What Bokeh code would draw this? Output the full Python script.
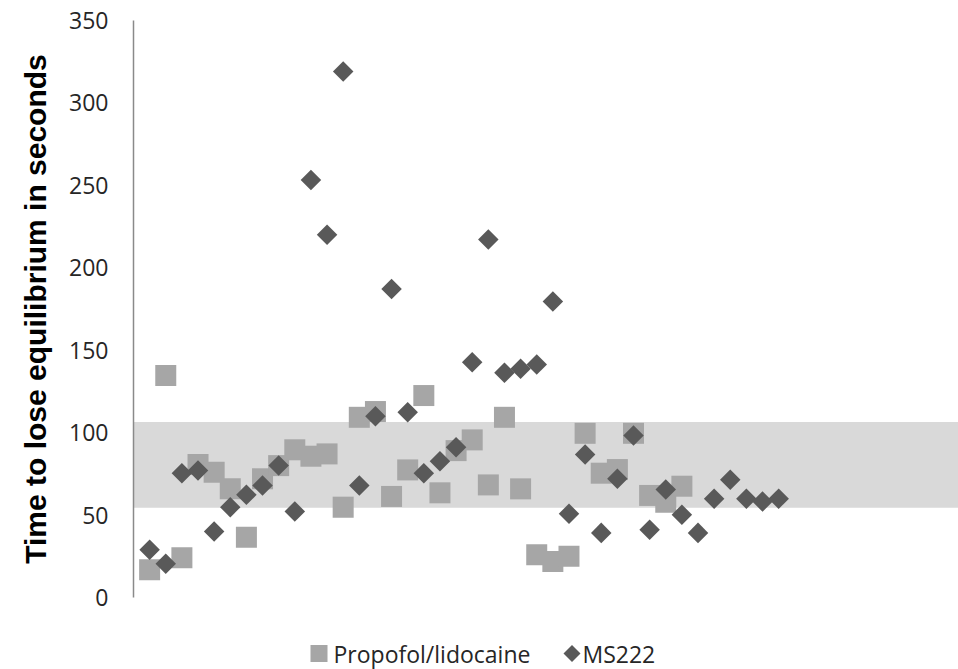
import math

from bokeh.core.properties import value
from bokeh.embed import file_html
from bokeh.layouts import column
from bokeh.models import BoxAnnotation, FixedTicker, Range1d
from bokeh.plotting import figure
from bokeh.resources import INLINE

# Time to lose equilibrium (s), one value per fish, in order
propofol_y = [16.8, 134.6, 24.1, 80.7, 76.0, 65.9, 36.6, 72.0, 80.0, 89.6,
              85.7, 87.1, 54.8, 109.3, 112.8, 61.3, 77.4, 122.5, 63.5, 89.1,
              95.6, 68.3, 109.3, 65.9, 25.9, 21.8, 25.0, 99.6, 75.4, 77.6,
              99.6, 61.9, 57.8, 67.5]
ms222_y = [28.9, 20.4, 75.4, 77.0, 40.0, 54.8, 62.3, 67.9, 80.0, 52.2,
           253.3, 220.0, 319.0, 67.9, 109.9, 187.2, 112.4, 75.4, 82.7, 91.1,
           142.7, 217.1, 136.3, 138.7, 141.3, 179.5, 50.8, 86.7, 39.2, 72.0,
           98.2, 41.1, 65.5, 50.2, 39.2, 59.9, 71.4, 59.9, 58.2, 59.9]
propofol_x = list(range(1, len(propofol_y) + 1))
ms222_x = list(range(1, len(ms222_y) + 1))

# Reference range shown as a shaded band
band_low = 54.4
band_high = 106.4

y_ticks = [0, 50, 100, 150, 200, 250, 300, 350]
series_names = ["Propofol/lidocaine", "MS222"]

square_color = "#a6a6a6"
diamond_color = "#595959"
text_color = "#262626"
tick_font = "Open Sans"

LEFT = 133
WIDTH = 958

p = figure(width=WIDTH, height=620, x_range=Range1d(0, 51.15), y_range=Range1d(0, 350),
           x_axis_location=None, toolbar_location=None, output_backend="svg",
           min_border_left=LEFT, min_border_right=0, min_border_top=20, min_border_bottom=23)
p.outline_line_color = None
p.xgrid.visible = False
p.ygrid.visible = False
p.background_fill_color = "white"
p.border_fill_color = "white"

band = BoxAnnotation(bottom=band_low, top=band_high, fill_color="#d9d9d9", fill_alpha=1.0,
                     line_color=None, level="underlay")
p.add_layout(band)

p.scatter(propofol_x, propofol_y, marker="square", size=21, fill_color=square_color,
          line_color=None)
p.scatter(ms222_x, ms222_y, marker="square", angle=math.pi / 4, size=14.5,
          fill_color=diamond_color, line_color=None)

ax = p.yaxis[0]
ax.ticker = FixedTicker(ticks=y_ticks)
ax.major_tick_line_color = None
ax.minor_tick_line_color = None
ax.axis_line_color = "#8a8a8a"
ax.axis_line_width = 1.5
ax.major_label_standoff = 19
ax.major_label_text_font = tick_font
ax.major_label_text_font_size = "23px"
ax.major_label_text_color = text_color
ax.axis_label = "Time to lose equilibrium in seconds"
ax.axis_label_text_font = "Liberation Sans"
ax.axis_label_text_font_style = "bold"
ax.axis_label_text_font_size = "30px"
ax.axis_label_text_color = "#000000"
ax.axis_label_standoff = 14

# Legend strip under the chart; its x range is in page pixels
leg = figure(width=WIDTH, height=49, x_range=Range1d(LEFT, WIDTH), y_range=Range1d(0, 49),
             x_axis_location=None, y_axis_location=None, toolbar_location=None,
             output_backend="svg", min_border=0, min_border_left=LEFT)
leg.outline_line_color = None
leg.xgrid.visible = False
leg.ygrid.visible = False

key_y = 16
leg.scatter([318.5], [key_y], marker="square", size=17, fill_color=square_color, line_color=None)
leg.text([333], [key_y], text=[series_names[0]], text_font=value(tick_font),
         text_font_size="23px", text_color=text_color, text_baseline="middle")
leg.scatter([571.5], [key_y], marker="square", angle=math.pi / 4, size=12,
            fill_color=diamond_color, line_color=None)
leg.text([582], [key_y], text=[series_names[1]], text_font=value(tick_font),
         text_font_size="23px", text_color=text_color, text_baseline="middle")

layout = column(p, leg, spacing=0)

open("out.html", "w").write(file_html(layout, INLINE))
